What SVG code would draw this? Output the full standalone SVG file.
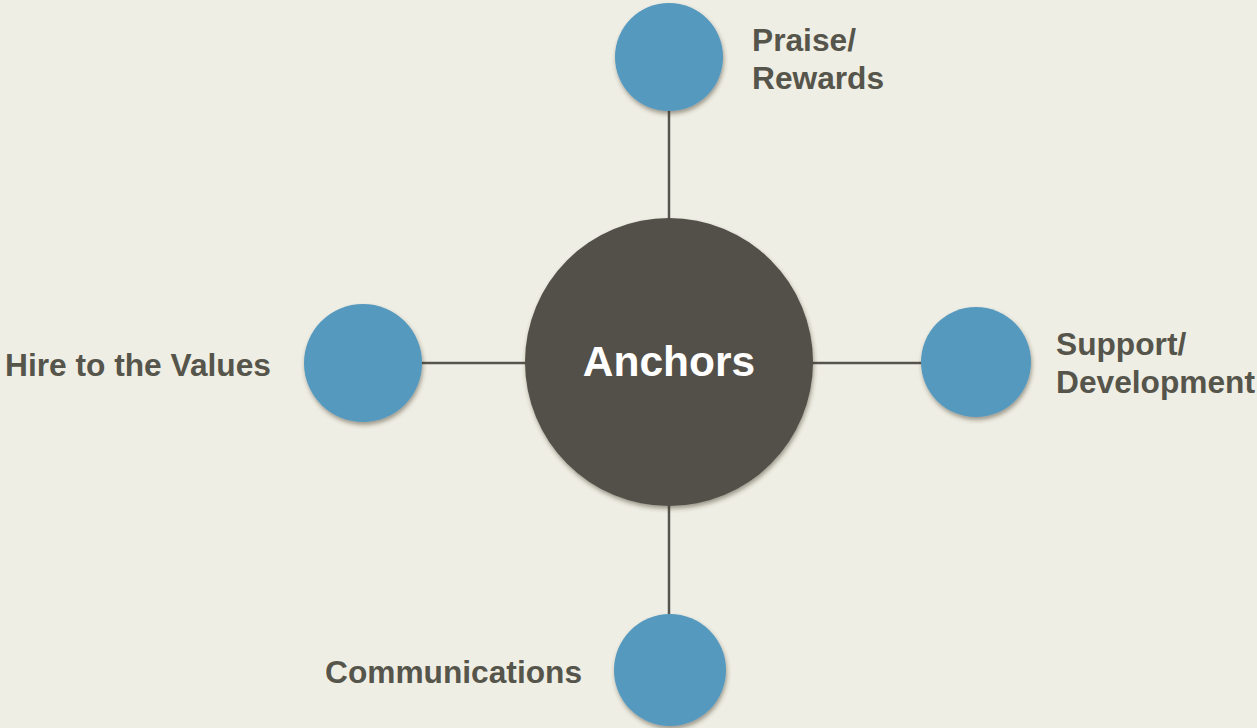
<svg xmlns="http://www.w3.org/2000/svg" width="1257" height="728" viewBox="0 0 1257 728">
<style>
.bg{fill:#EFEEE4}
.sat{fill:#5599BF;filter:url(#sh)}
.hub{fill:#525049;filter:url(#sh)}
.con{stroke:#55544E;stroke-width:2.5;fill:none}
.lbl{font-family:"Liberation Sans",Arial,sans-serif;font-weight:bold;font-size:31.7px;fill:#56554B}
.hubt{font-family:"Liberation Sans",Arial,sans-serif;font-weight:bold;font-size:42.5px;fill:#FFFFFF;text-anchor:middle}
</style>
<defs>
<filter id="sh" x="-20%" y="-20%" width="140%" height="140%">
<feDropShadow dx="1" dy="3" stdDeviation="2" flood-color="#3a3628" flood-opacity="0.45"/>
</filter>
</defs>
<rect class="bg" x="0" y="0" width="1257" height="728"/>
<g id="connectors">
<line class="con" x1="669" y1="111" x2="669" y2="220"/>
<line class="con" x1="669" y1="504" x2="669" y2="615"/>
<line class="con" x1="421" y1="363" x2="527" y2="363"/>
<line class="con" x1="811" y1="363" x2="922" y2="363"/>
</g>
<g id="hub">
<circle class="hub" cx="669" cy="362" r="144"/>
<text class="hubt" x="669" y="376">Anchors</text>
</g>
<g id="praise">
<circle class="sat" cx="669" cy="57" r="54"/>
<text class="lbl" x="752" y="51">Praise/</text>
<text class="lbl" x="752" y="89">Rewards</text>
</g>
<g id="support">
<circle class="sat" cx="976" cy="362" r="55"/>
<text class="lbl" x="1056" y="355">Support/</text>
<text class="lbl" x="1056" y="393">Development</text>
</g>
<g id="hire">
<circle class="sat" cx="363" cy="363" r="59"/>
<text class="lbl" x="5" y="376">Hire to the Values</text>
</g>
<g id="communications">
<circle class="sat" cx="670" cy="670" r="56"/>
<text class="lbl" x="325" y="683">Communications</text>
</g>
</svg>
